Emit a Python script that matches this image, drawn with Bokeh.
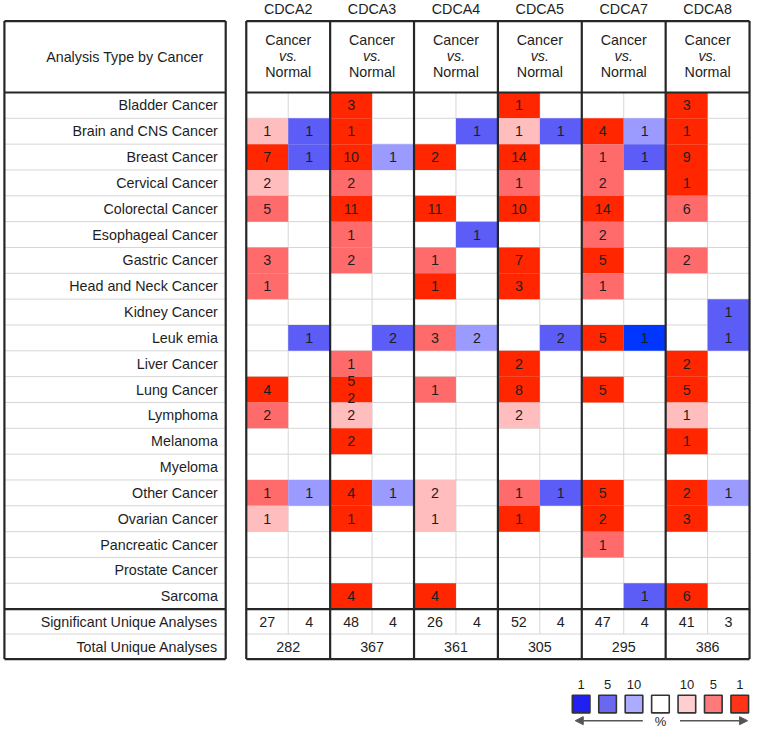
from bokeh.plotting import figure
from bokeh.models import Range1d, Arrow, NormalHead
from bokeh.embed import file_html
from bokeh.resources import INLINE
from bokeh.core.properties import value

# ---------------- data ----------------
genes = ["CDCA2", "CDCA3", "CDCA4", "CDCA5", "CDCA7", "CDCA8"]
cancers = ["Bladder Cancer", "Brain and CNS Cancer", "Breast Cancer", "Cervical Cancer",
           "Colorectal Cancer", "Esophageal Cancer", "Gastric Cancer", "Head and Neck Cancer",
           "Kidney Cancer", "Leuk emia", "Liver Cancer", "Lung Cancer", "Lymphoma", "Melanoma",
           "Myeloma", "Other Cancer", "Ovarian Cancer", "Pancreatic Cancer", "Prostate Cancer",
           "Sarcoma"]

# counts of analyses (0 = none) and best gene-rank percentile (1, 5, 10) per cancer
cdca2_up_n = [0, 1, 7, 2, 5, 0, 3, 1, 0, 0, 0, 4, 2, 0, 0, 1, 1, 0, 0, 0]
cdca2_up_r = [0, 10, 1, 10, 5, 0, 5, 5, 0, 0, 0, 1, 5, 0, 0, 5, 10, 0, 0, 0]
cdca2_dn_n = [0, 1, 1, 0, 0, 0, 0, 0, 0, 1, 0, 0, 0, 0, 0, 1, 0, 0, 0, 0]
cdca2_dn_r = [0, 5, 5, 0, 0, 0, 0, 0, 0, 5, 0, 0, 0, 0, 0, 10, 0, 0, 0, 0]

cdca3_up_n = [3, 1, 10, 2, 11, 1, 2, 0, 0, 0, 1, 5, 2, 2, 0, 4, 1, 0, 0, 4]
cdca3_up_r = [1, 1, 1, 5, 1, 5, 5, 0, 0, 0, 5, 1, 10, 1, 0, 1, 1, 0, 0, 1]
cdca3_dn_n = [0, 0, 1, 0, 0, 0, 0, 0, 0, 2, 0, 0, 0, 0, 0, 1, 0, 0, 0, 0]
cdca3_dn_r = [0, 0, 10, 0, 0, 0, 0, 0, 0, 5, 0, 0, 0, 0, 0, 10, 0, 0, 0, 0]

cdca4_up_n = [0, 0, 2, 0, 11, 0, 1, 1, 0, 3, 0, 1, 0, 0, 0, 2, 1, 0, 0, 4]
cdca4_up_r = [0, 0, 1, 0, 1, 0, 5, 1, 0, 5, 0, 5, 0, 0, 0, 10, 10, 0, 0, 1]
cdca4_dn_n = [0, 1, 0, 0, 0, 1, 0, 0, 0, 2, 0, 0, 0, 0, 0, 0, 0, 0, 0, 0]
cdca4_dn_r = [0, 5, 0, 0, 0, 5, 0, 0, 0, 10, 0, 0, 0, 0, 0, 0, 0, 0, 0, 0]

cdca5_up_n = [1, 1, 14, 1, 10, 0, 7, 3, 0, 0, 2, 8, 2, 0, 0, 1, 1, 0, 0, 0]
cdca5_up_r = [1, 10, 1, 5, 1, 0, 1, 1, 0, 0, 1, 1, 10, 0, 0, 5, 1, 0, 0, 0]
cdca5_dn_n = [0, 1, 0, 0, 0, 0, 0, 0, 0, 2, 0, 0, 0, 0, 0, 1, 0, 0, 0, 0]
cdca5_dn_r = [0, 5, 0, 0, 0, 0, 0, 0, 0, 5, 0, 0, 0, 0, 0, 5, 0, 0, 0, 0]

cdca7_up_n = [0, 4, 1, 2, 14, 2, 5, 1, 0, 5, 0, 5, 0, 0, 0, 5, 2, 1, 0, 0]
cdca7_up_r = [0, 1, 5, 5, 1, 5, 1, 5, 0, 1, 0, 1, 0, 0, 0, 1, 1, 5, 0, 0]
cdca7_dn_n = [0, 1, 1, 0, 0, 0, 0, 0, 0, 1, 0, 0, 0, 0, 0, 0, 0, 0, 0, 1]
cdca7_dn_r = [0, 10, 5, 0, 0, 0, 0, 0, 0, 1, 0, 0, 0, 0, 0, 0, 0, 0, 0, 5]

cdca8_up_n = [3, 1, 9, 1, 6, 0, 2, 0, 0, 0, 2, 5, 1, 1, 0, 2, 3, 0, 0, 6]
cdca8_up_r = [1, 1, 1, 1, 5, 0, 5, 0, 0, 0, 1, 1, 10, 1, 0, 1, 1, 0, 0, 1]
cdca8_dn_n = [0, 0, 0, 0, 0, 0, 0, 0, 1, 1, 0, 0, 0, 0, 0, 1, 0, 0, 0, 0]
cdca8_dn_r = [0, 0, 0, 0, 0, 0, 0, 0, 5, 5, 0, 0, 0, 0, 0, 10, 0, 0, 0, 0]

up_n = [cdca2_up_n, cdca3_up_n, cdca4_up_n, cdca5_up_n, cdca7_up_n, cdca8_up_n]
up_r = [cdca2_up_r, cdca3_up_r, cdca4_up_r, cdca5_up_r, cdca7_up_r, cdca8_up_r]
dn_n = [cdca2_dn_n, cdca3_dn_n, cdca4_dn_n, cdca5_dn_n, cdca7_dn_n, cdca8_dn_n]
dn_r = [cdca2_dn_r, cdca3_dn_r, cdca4_dn_r, cdca5_dn_r, cdca7_dn_r, cdca8_dn_r]

# label quirk in the original (two numbers in one cell)
label_override = {("CDCA3", "Lung Cancer"): "5\n2"}

sig_up = [27, 48, 26, 52, 47, 41]
sig_dn = [4, 4, 4, 4, 4, 3]
total = [282, 367, 361, 305, 295, 386]

legend_ranks = [1, 5, 10, 0, 10, 5, 1]
legend_sides = ["dn", "dn", "dn", "none", "up", "up", "up"]
legend_labels = ["1", "5", "10", "", "10", "5", "1"]

# ---------------- style / layout ----------------
RED = {1: "#ff2600", 5: "#ff6b6b", 10: "#ffbdbd"}
BLUE = {1: "#0036ff", 5: "#5c5cf6", 10: "#9a9aff"}
LRED = {1: "#ff3318", 5: "#ff7a7a", 10: "#ffcfcf"}
LBLUE = {1: "#2020f0", 5: "#6868f0", 10: "#ababff"}

FONT = value("Liberation Sans")
FS = "14.3px"
TXT = "#1e1e1e"
DARK = "#262626"
GRID = "#d6d6d6"

LX0, LX1 = 4, 230
RX0, RX1 = 251, 765
HT, HB = 21, 94
RH = 26.4
NR = len(cancers)
RB = HB + NR * RH
SH = 25.5
SB = RB + 2 * SH
GW = (RX1 - RX0) / len(genes)

p = figure(width=751, height=728, x_range=Range1d(0, 767), y_range=Range1d(744, 0),
           output_backend="svg", toolbar_location=None, min_border=0,
           x_axis_location=None, y_axis_location=None)
p.grid.visible = False
p.outline_line_color = None
p.background_fill_color = "white"

# ---- grid lines (light) ----
gx0, gx1, gy0, gy1 = [], [], [], []
for i in range(1, NR):
    y = HB + i * RH
    gx0 += [LX0, RX0]; gx1 += [LX1, RX1]; gy0 += [y, y]; gy1 += [y, y]
ysum = RB + SH
gx0 += [LX0, RX0]; gx1 += [LX1, RX1]; gy0 += [ysum, ysum]; gy1 += [ysum, ysum]
for g in range(len(genes)):
    x = RX0 + g * GW + GW / 2
    gx0.append(x); gx1.append(x); gy0.append(HB); gy1.append(RB + SH)
p.segment(x0=gx0, y0=gy0, x1=gx1, y1=gy1, line_color=GRID, line_width=1)

# ---- cells ----
cl, cr, ct, cb, cc, tx, ty, tt = [], [], [], [], [], [], [], []
for g, gene in enumerate(genes):
    for side in (0, 1):
        ns = up_n[g] if side == 0 else dn_n[g]
        rs = up_r[g] if side == 0 else dn_r[g]
        pal = RED if side == 0 else BLUE
        for i, c in enumerate(cancers):
            if ns[i] > 0:
                l = RX0 + g * GW + side * GW / 2
                cl.append(l); cr.append(l + GW / 2)
                ct.append(HB + i * RH); cb.append(HB + (i + 1) * RH)
                cc.append(pal[rs[i]])
                tx.append(l + GW / 4); ty.append(HB + (i + 0.5) * RH)
                tt.append(label_override.get((gene, c), str(ns[i])))
p.quad(left=cl, right=cr, top=ct, bottom=cb, fill_color=cc, line_color=None)
p.text(x=tx, y=ty, text=tt, text_align="center", text_baseline="middle",
       text_font=FONT, text_font_size=FS, text_color=TXT, text_line_height=1.1)

# ---- thick borders ----
bx0, bx1, by0, by1 = [], [], [], []
def box(x0, y0, x1, y1):
    bx0.extend([x0, x0, x0, x1]); bx1.extend([x1, x1, x0, x1])
    by0.extend([y0, y1, y0, y0]); by1.extend([y0, y1, y1, y1])
box(LX0, HT, LX1, SB)
box(RX0, HT, RX1, SB)
for y in (HB, RB):
    bx0 += [LX0, RX0]; bx1 += [LX1, RX1]; by0 += [y, y]; by1 += [y, y]
for g in range(1, len(genes)):
    x = RX0 + g * GW
    bx0.append(x); bx1.append(x); by0.append(HT); by1.append(SB)
p.segment(x0=bx0, y0=by0, x1=bx1, y1=by1, line_color=DARK, line_width=2.2)

# ---- texts ----
gc = [RX0 + (g + 0.5) * GW for g in range(len(genes))]
p.text(x=gc, y=[9] * len(genes), text=genes, text_align="center", text_baseline="middle",
       text_font=FONT, text_font_size=FS, text_color=TXT)
p.text(x=gc, y=[40] * len(genes), text=["Cancer"] * len(genes), text_align="center",
       text_baseline="middle", text_font=FONT, text_font_size=FS, text_color=TXT)
p.text(x=gc, y=[57] * len(genes), text=["vs."] * len(genes), text_align="center",
       text_baseline="middle", text_font=FONT, text_font_size=FS, text_color=TXT,
       text_font_style="italic")
p.text(x=gc, y=[73] * len(genes), text=["Normal"] * len(genes), text_align="center",
       text_baseline="middle", text_font=FONT, text_font_size=FS, text_color=TXT)
p.text(x=[127], y=[(HT + HB) / 2], text=["Analysis Type by Cancer"], text_align="center",
       text_baseline="middle", text_font=FONT, text_font_size=FS, text_color=TXT)

ry = [HB + (i + 0.5) * RH for i in range(NR)]
p.text(x=[LX1 - 8] * NR, y=ry, text=cancers, text_align="right", text_baseline="middle",
       text_font=FONT, text_font_size=FS, text_color=TXT)
p.text(x=[LX1 - 8] * 2, y=[RB + SH / 2, RB + 1.5 * SH],
       text=["Significant Unique Analyses", "Total Unique Analyses"], text_align="right",
       text_baseline="middle", text_font=FONT, text_font_size=FS, text_color=TXT)

sx, sy, st = [], [], []
for g in range(len(genes)):
    sx += [RX0 + g * GW + GW / 4, RX0 + g * GW + 3 * GW / 4]
    sy += [RB + SH / 2] * 2
    st += [str(sig_up[g]), str(sig_dn[g])]
p.text(x=sx, y=sy, text=st, text_align="center", text_baseline="middle",
       text_font=FONT, text_font_size=FS, text_color=TXT)
p.text(x=gc, y=[RB + 1.5 * SH] * len(genes), text=[str(t) for t in total],
       text_align="center", text_baseline="middle", text_font=FONT, text_font_size=FS,
       text_color=TXT)

# ---- legend ----
LGX0, LGDX, LGY = 593, 27, 719
lx = [LGX0 + k * LGDX for k in range(len(legend_ranks))]
lcol = []
for s, r in zip(legend_sides, legend_ranks):
    lcol.append(LRED[r] if s == "up" else (LBLUE[r] if s == "dn" else "white"))
p.rect(x=lx, y=[LGY] * len(lx), width=18, height=18, fill_color=lcol,
       line_color="#333333", line_width=1.6)
p.text(x=lx, y=[699] * len(lx), text=legend_labels, text_align="center",
       text_baseline="middle", text_font=FONT, text_font_size="13px", text_color=TXT)
p.text(x=[lx[3]], y=[737], text=["%"], text_align="center", text_baseline="middle",
       text_font=FONT, text_font_size="13px", text_color=TXT)
p.add_layout(Arrow(end=NormalHead(size=8, fill_color="#555555", line_color="#555555"),
                   x_start=lx[3] - 18, y_start=736, x_end=lx[0] - 6, y_end=736,
                   line_color="#555555", line_width=1.5))
p.add_layout(Arrow(end=NormalHead(size=8, fill_color="#555555", line_color="#555555"),
                   x_start=lx[3] + 20, y_start=736, x_end=lx[6] + 8, y_end=736,
                   line_color="#555555", line_width=1.5))

open("out.html", "w").write(file_html(p, INLINE))
